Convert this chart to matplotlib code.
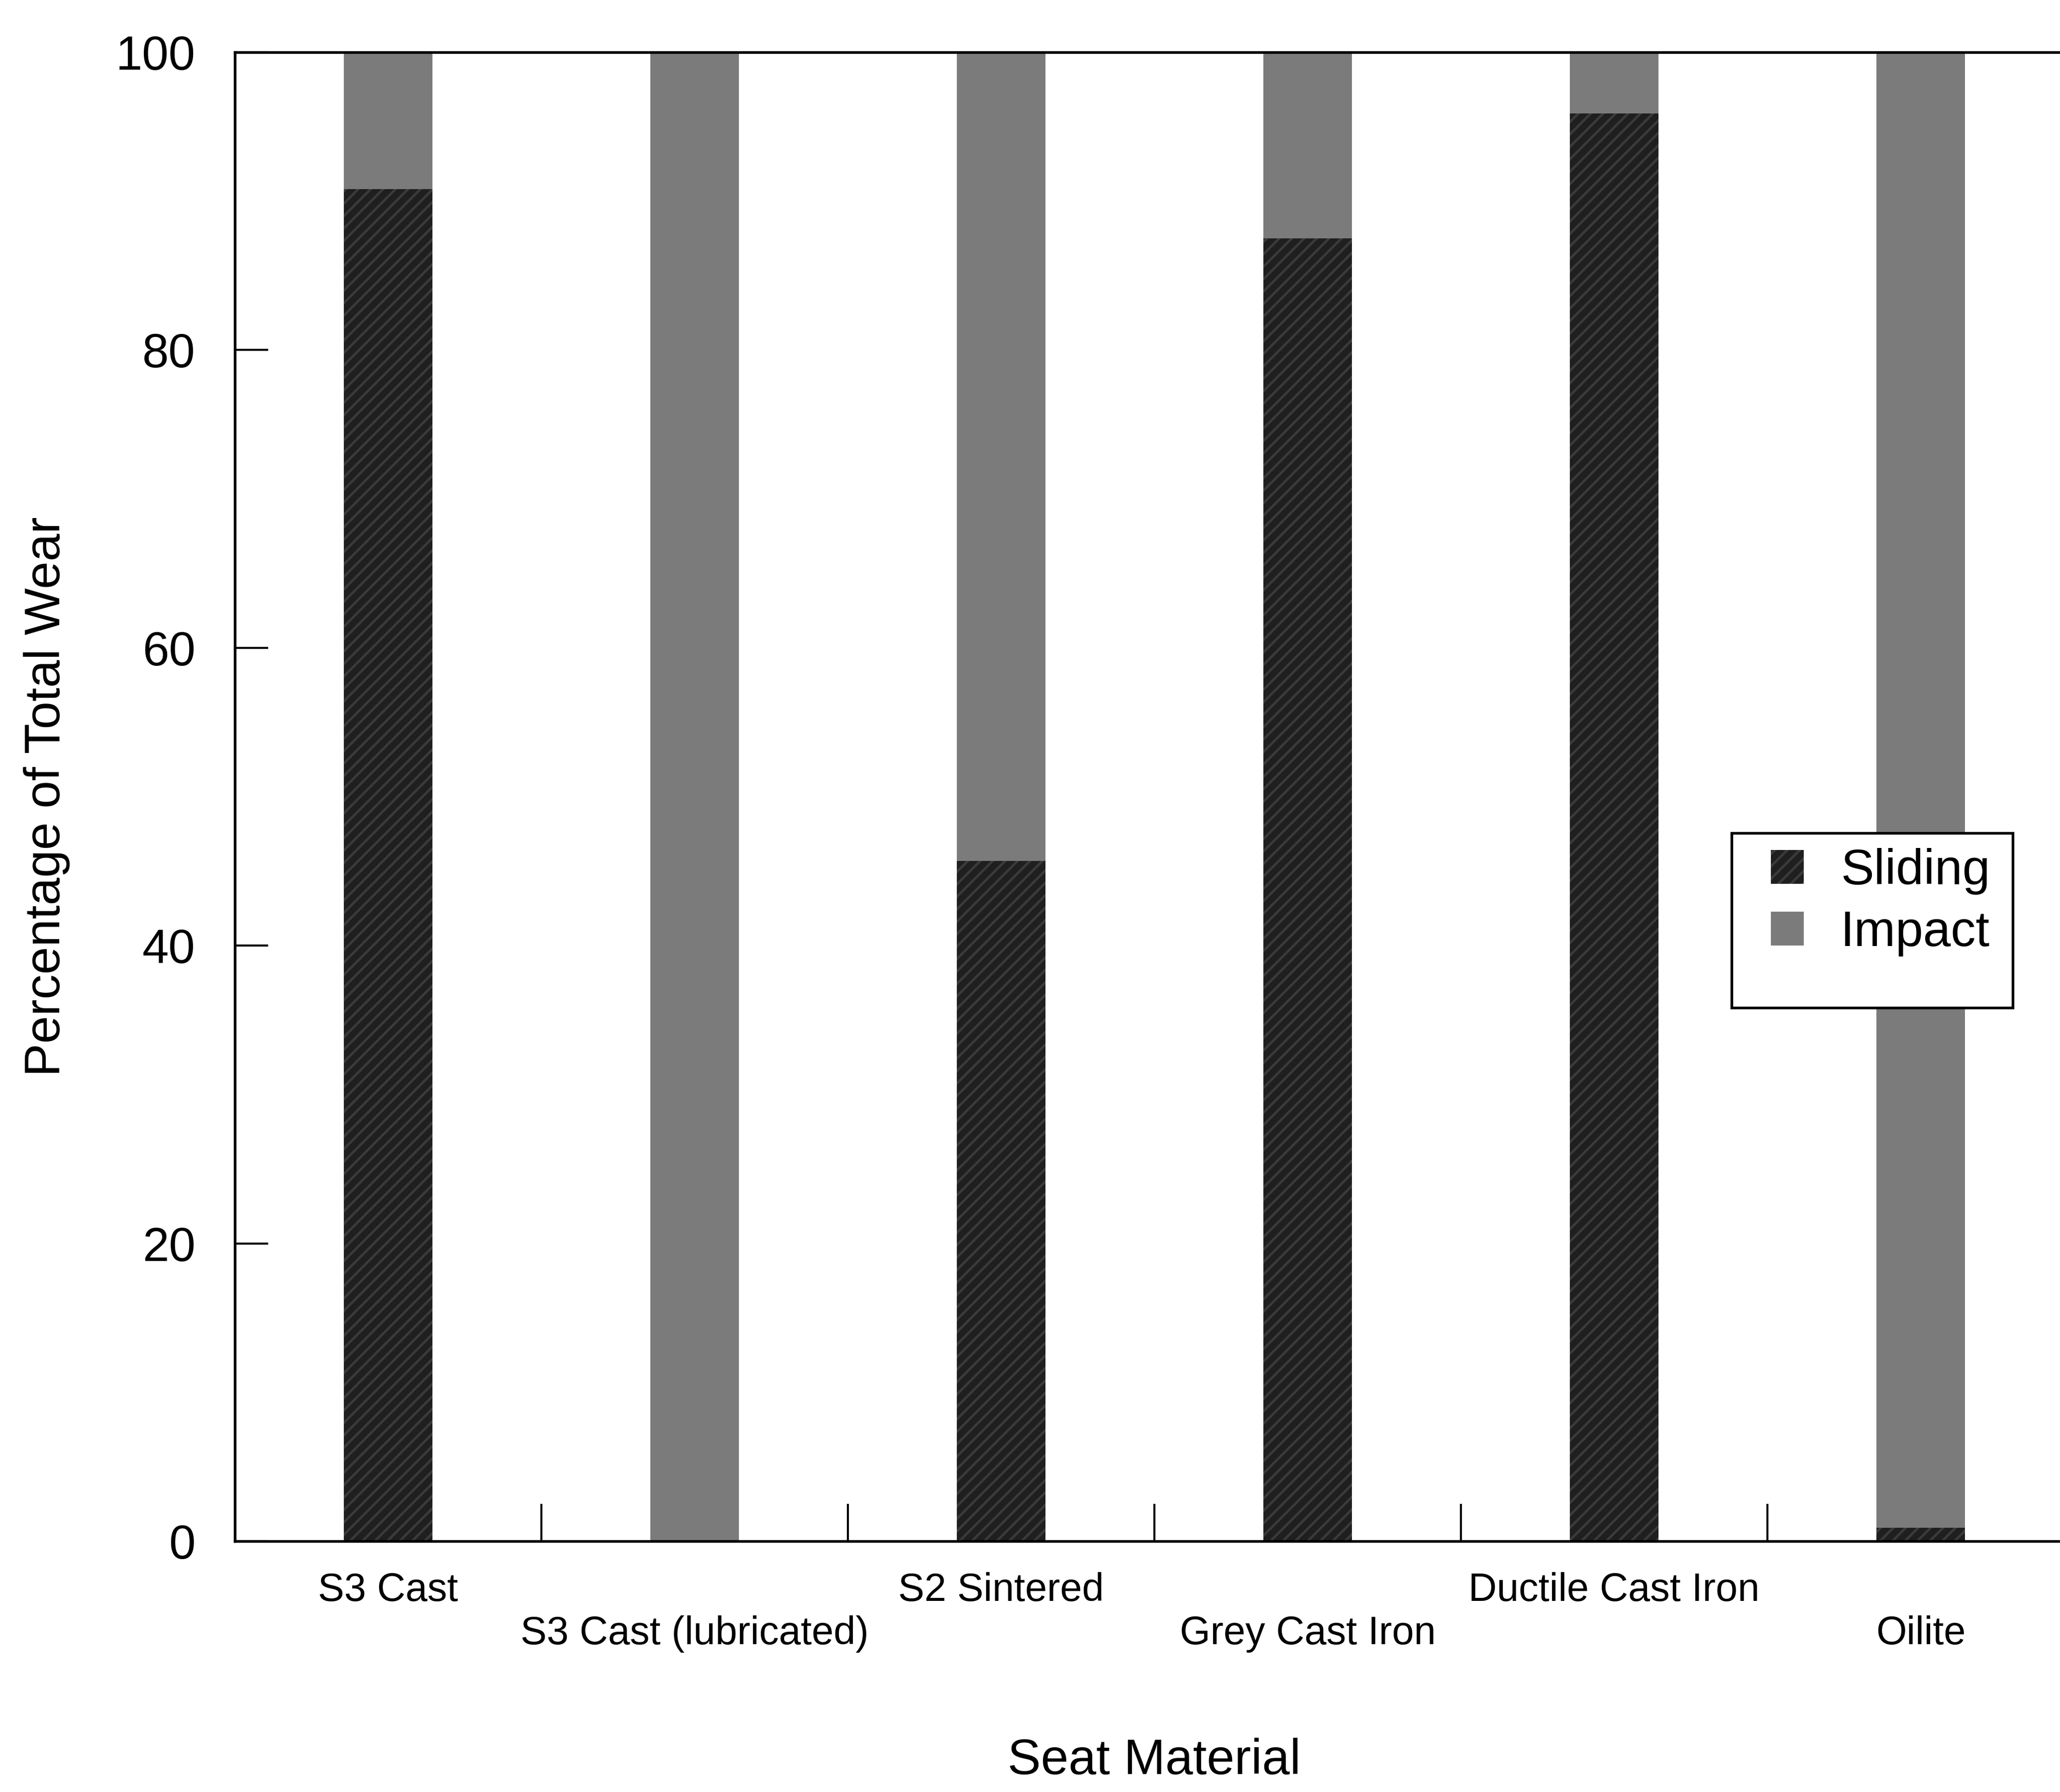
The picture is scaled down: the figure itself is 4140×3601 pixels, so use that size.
import matplotlib
matplotlib.use("Agg")
import matplotlib.pyplot as plt
from matplotlib.patches import Rectangle
import numpy as np

# Wear contribution by seat material (percent of total wear)
materials = ["S3 Cast", "S3 Cast (lubricated)", "S2 Sintered",
             "Grey Cast Iron", "Ductile Cast Iron", "Oilite"]
sliding = [90.8, 0.0, 45.7, 87.5, 95.9, 0.9]
impact = [100 - s for s in sliding]

y_ticks = [0, 20, 40, 60, 80, 100]

plt.rcParams["font.family"] = ["Liberation Sans", "DejaVu Sans"]
plt.rcParams["hatch.linewidth"] = 1.2

W, H, DPI = 4140, 3601, 300
fig = plt.figure(figsize=(W / DPI, H / DPI), dpi=DPI)

left, bottom, top = 472 / W, 1 - 3097 / H, 1 - 105 / H
right = 4168 / W
ax = fig.add_axes([left, bottom, right - left, top - bottom])

x = np.arange(len(materials))
bw = 0.29
b1 = ax.bar(x, sliding, width=bw, color="#1f1f1f", edgecolor="#3a3a3a",
            linewidth=0, hatch="////", label="Sliding")
b2 = ax.bar(x, impact, width=bw, bottom=sliding, color="#7b7b7b",
            edgecolor="#6e6e6e", linewidth=0, label="Impact")

ax.set_xlim(-0.5, len(materials) - 0.5)
ax.set_ylim(0, 100)

for sp in ax.spines.values():
    sp.set_linewidth(1.3)
    sp.set_color("black")

# y axis: inward ticks
ax.set_yticks(y_ticks)
ax.tick_params(axis="y", direction="in", length=16, width=1.0,
               labelsize=23, pad=19)

# x axis: labels under each bar (staggered), tick marks between categories
ax.set_xticks(x)
labels = [m if i % 2 == 0 else "\n" + m for i, m in enumerate(materials)]
ax.set_xticklabels(labels)
ax.tick_params(axis="x", which="major", length=0, labelsize=19, pad=15)
for lbl in ax.get_xticklabels():
    lbl.set_linespacing(1.2)
ax.set_xticks(x[:-1] + 0.5, minor=True)
ax.tick_params(axis="x", which="minor", direction="in", length=18, width=1.0)

ax.set_xlabel("Seat Material", fontsize=24, labelpad=41)
ax.set_ylabel("Percentage of Total Wear", fontsize=24, labelpad=22)

# legend box (white, black border) with the key entries placed inside it
box = Rectangle((3480 / W, 1 - 2025 / H), (4045 - 3480) / W, (2025 - 1674) / H,
                transform=fig.transFigure, facecolor="white",
                edgecolor="black", linewidth=1.3, zorder=4)
fig.add_artist(box)
leg = fig.legend([b1, b2], ["Sliding", "Impact"],
                 loc="upper left", bbox_to_anchor=(3559 / W, 1 - 1704 / H),
                 bbox_transform=fig.transFigure, borderaxespad=0,
                 fontsize=24, frameon=False,
                 handlelength=0.66, handleheight=0.66, handletextpad=0.74,
                 labelspacing=0.3, borderpad=0)
leg.set_zorder(5)

fig.savefig("out.png", dpi=DPI)
